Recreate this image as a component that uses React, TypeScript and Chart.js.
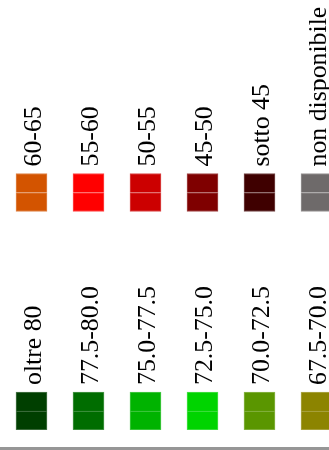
import React, { useEffect, useRef } from "react";
import { Chart, registerables } from "chart.js";

Chart.register(...registerables);

// Legend classes (top row and bottom row)
const TOP_LABELS = ["60-65", "55-60", "50-55", "45-50", "sotto 45", "non disponibile"];
const TOP_COLORS = ["#d35400", "#ff0000", "#cc0000", "#7f0000", "#3f0000", "#6e6a6a"];
const BOTTOM_LABELS = ["oltre 80", "77.5-80.0", "75.0-77.5", "72.5-75.0", "70.0-72.5", "67.5-70.0"];
const BOTTOM_COLORS = ["#003f00", "#006d00", "#00b300", "#00d400", "#5a9600", "#8c8400"];
const COLUMNS = ["0", "1", "2", "3", "4", "5"];
// Row base values on the legend's vertical scale (each swatch spans 2 units)
const ROW_BASE = [0, 11.5];

function lighten(hex: string, amt: number): string {
  const n = parseInt(hex.slice(1), 16);
  const r = (n >> 16) & 255;
  const g = (n >> 8) & 255;
  const b = n & 255;
  const m = (c: number) => Math.round(c + (255 - c) * amt);
  return `rgb(${m(r)},${m(g)},${m(b)})`;
}

export default function App() {
  const ref = useRef<HTMLCanvasElement>(null);

  useEffect(() => {
    if (!ref.current) return;
    const rows = [
      { labels: BOTTOM_LABELS, colors: BOTTOM_COLORS, base: ROW_BASE[0] },
      { labels: TOP_LABELS, colors: TOP_COLORS, base: ROW_BASE[1] },
    ];
    const datasets: any[] = [];
    rows.forEach((r, ri) => {
      const borders = r.colors.map((c) => lighten(c, 0.3));
      datasets.push({
        label: "row" + ri + "-low",
        data: COLUMNS.map(() => [r.base, r.base + 1]),
        backgroundColor: r.colors,
        borderColor: borders,
        borderWidth: 1,
        borderSkipped: false,
        barThickness: 31,
        grouped: false,
      });
      datasets.push({
        label: "row" + ri + "-high",
        data: COLUMNS.map(() => [r.base + 1, r.base + 2]),
        backgroundColor: r.colors,
        borderColor: borders,
        borderWidth: 1,
        borderSkipped: "start",
        barThickness: 31,
        grouped: false,
        rowLabels: r.labels,
      });
    });

    const labelPlugin = {
      id: "legendLabels",
      afterDatasetsDraw(chart: any) {
        const ctx = chart.ctx;
        chart.data.datasets.forEach((ds: any, di: number) => {
          if (!ds.rowLabels) return;
          const meta = chart.getDatasetMeta(di);
          meta.data.forEach((el: any, i: number) => {
            const text = ds.rowLabels[i];
            ctx.save();
            ctx.translate(el.x + 9, el.y - 7);
            ctx.rotate(-Math.PI / 2);
            ctx.font = '25.8px "Liberation Serif", "Times New Roman", serif';
            ctx.fillStyle = "#000";
            ctx.textAlign = "left";
            ctx.textBaseline = "alphabetic";
            ctx.fillText(text, 0, 0);
            ctx.restore();
          });
        });
      },
    };

    const chart = new Chart(ref.current, {
      type: "bar",
      data: { labels: COLUMNS, datasets },
      options: {
        responsive: false,
        animation: false,
        layout: { padding: { left: 3, right: 0, top: 12, bottom: 17 } },
        plugins: { legend: { display: false }, tooltip: { enabled: false } },
        scales: {
          x: { type: "category", display: false, offset: true },
          y: { type: "linear", display: false, min: 0, max: 22 },
        },
      },
      plugins: [labelPlugin],
    } as any);
    return () => chart.destroy();
  }, []);

  return (
    <div
      style={{
        position: "absolute",
        left: 0,
        top: 0,
        width: 329,
        height: 450,
        overflow: "hidden",
        boxSizing: "border-box",
        borderBottom: "3px solid #969696",
        background: "#fff",
      }}
    >
      <canvas ref={ref} width={345} height={447} style={{ display: "block" }} />
    </div>
  );
}
